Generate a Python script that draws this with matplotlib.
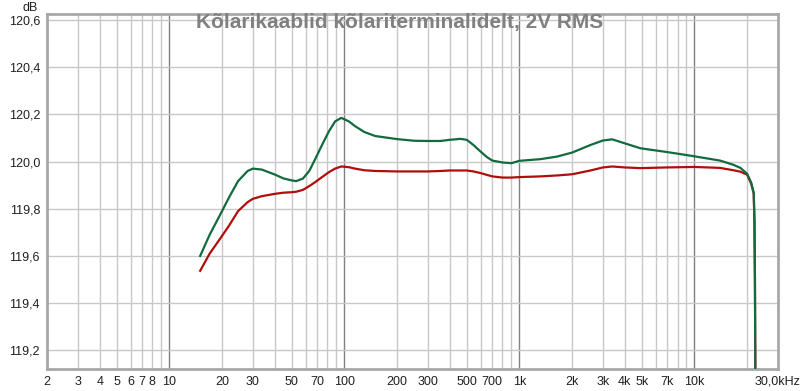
import numpy as np
import matplotlib
matplotlib.use("Agg")
import matplotlib.pyplot as plt

# Frequency response readings (Hz, dB)
freq = [15, 17, 20, 22, 24.7, 28, 30, 33.7, 40, 45, 50, 53, 58, 63, 68.5, 74.5,
        81.6, 88.5, 96, 106, 115, 130, 150, 200, 250, 300, 354, 400, 460, 500,
        546, 600, 654, 700, 800, 900, 1000, 1318, 1642, 2000, 2545, 3000, 3387,
        4000, 4920, 7000, 10000, 14000, 16700, 18300, 20000, 21100, 21800,
        22000, 22150, 22300]
green_db = [119.60, 119.69, 119.79, 119.85, 119.917, 119.96, 119.97, 119.966, 119.945,
            119.928, 119.92, 119.917, 119.928, 119.96, 120.014, 120.07,
            120.128, 120.17, 120.185, 120.17, 120.15, 120.125, 120.108, 120.095,
            120.088, 120.087, 120.087, 120.092, 120.096, 120.092,
            120.07, 120.042, 120.018, 120.004, 119.996, 119.993, 120.003, 120.01,
            120.021, 120.038, 120.07, 120.089, 120.094,
            120.077, 120.056, 120.04, 120.022, 120.004, 119.986, 119.973, 119.948,
            119.91, 119.867, 119.75, 119.50, 119.00]
red_db = [119.537, 119.61, 119.685, 119.73, 119.79, 119.828, 119.842, 119.853, 119.863,
          119.868, 119.87, 119.872, 119.88, 119.896, 119.914, 119.934,
          119.955, 119.97, 119.979, 119.976, 119.97, 119.963, 119.96, 119.958,
          119.958, 119.958, 119.96, 119.962, 119.962, 119.962,
          119.958, 119.951, 119.943, 119.937, 119.932, 119.932, 119.934, 119.937,
          119.941, 119.946, 119.962, 119.975, 119.979,
          119.975, 119.972, 119.975, 119.977, 119.973, 119.963, 119.957, 119.944,
          119.905, 119.865, 119.75, 119.50, 119.00]

x_ticks = [2, 3, 4, 5, 6, 7, 8, 10, 20, 30, 50, 70, 100, 200, 300, 500, 700,
           1000, 2000, 3000, 4000, 5000, 7000, 10000, 30000]
x_labels = ["2", "3", "4", "5", "6", "7", "8", "10", "20", "30", "50", "70", "100",
            "200", "300", "500", "700", "1k", "2k", "3k", "4k", "5k", "7k", "10k",
            "30,0kHz"]
y_ticks = [119.2, 119.4, 119.6, 119.8, 120.0, 120.2, 120.4, 120.6]
y_labels = ["119,2", "119,4", "119,6", "119,8", "120,0", "120,2", "120,4", "120,6"]

plt.rcParams["font.family"] = ["Liberation Sans", "DejaVu Sans"]

fig = plt.figure(figsize=(8, 3.91), dpi=100)
ax = fig.add_axes([47 / 800, 22 / 391, 731 / 800, 355 / 391])
ax.set_xscale("log")
ax.set_xlim(2, 30000)
ax.set_ylim(119.121, 120.625)

# grid: light lines on every minor step, darker decade lines
for dec in [1, 10, 100, 1000, 10000]:
    for m in range(1, 10):
        f = dec * m
        if f < 2 or f > 30000:
            continue
        col = "#808080" if m == 1 else "#c8c8c8"
        ax.axvline(f, color=col, lw=1, zorder=0)
for y in y_ticks:
    ax.axhline(y, color="#c8c8c8", lw=1, zorder=0)

ax.plot(freq, red_db, color="#b00d0d", lw=1.6, zorder=2)
ax.plot(freq, green_db, color="#126b3e", lw=1.6, zorder=3)

ax.set_xticks(x_ticks)
ax.set_xticklabels(x_labels)
ax.xaxis.set_minor_locator(matplotlib.ticker.NullLocator())
ax.set_yticks(y_ticks)
ax.set_yticklabels(y_labels)
ax.tick_params(length=0, labelsize=9, colors="#202020", pad=5)

for s in ax.spines.values():
    s.set_color("#a8a8a8")
    s.set_linewidth(2)

ax.text(0.483, 0.975, "Kõlarikaablid kõlariterminalidelt, 2V RMS", ha="center",
        va="center", fontsize=15, fontweight="bold", color="#808080",
        transform=ax.transAxes)
fig.text(30 / 800, 1 - 8 / 391, "dB", ha="center", va="center", fontsize=9,
         color="#202020")

fig.savefig("out.png", dpi=100)
